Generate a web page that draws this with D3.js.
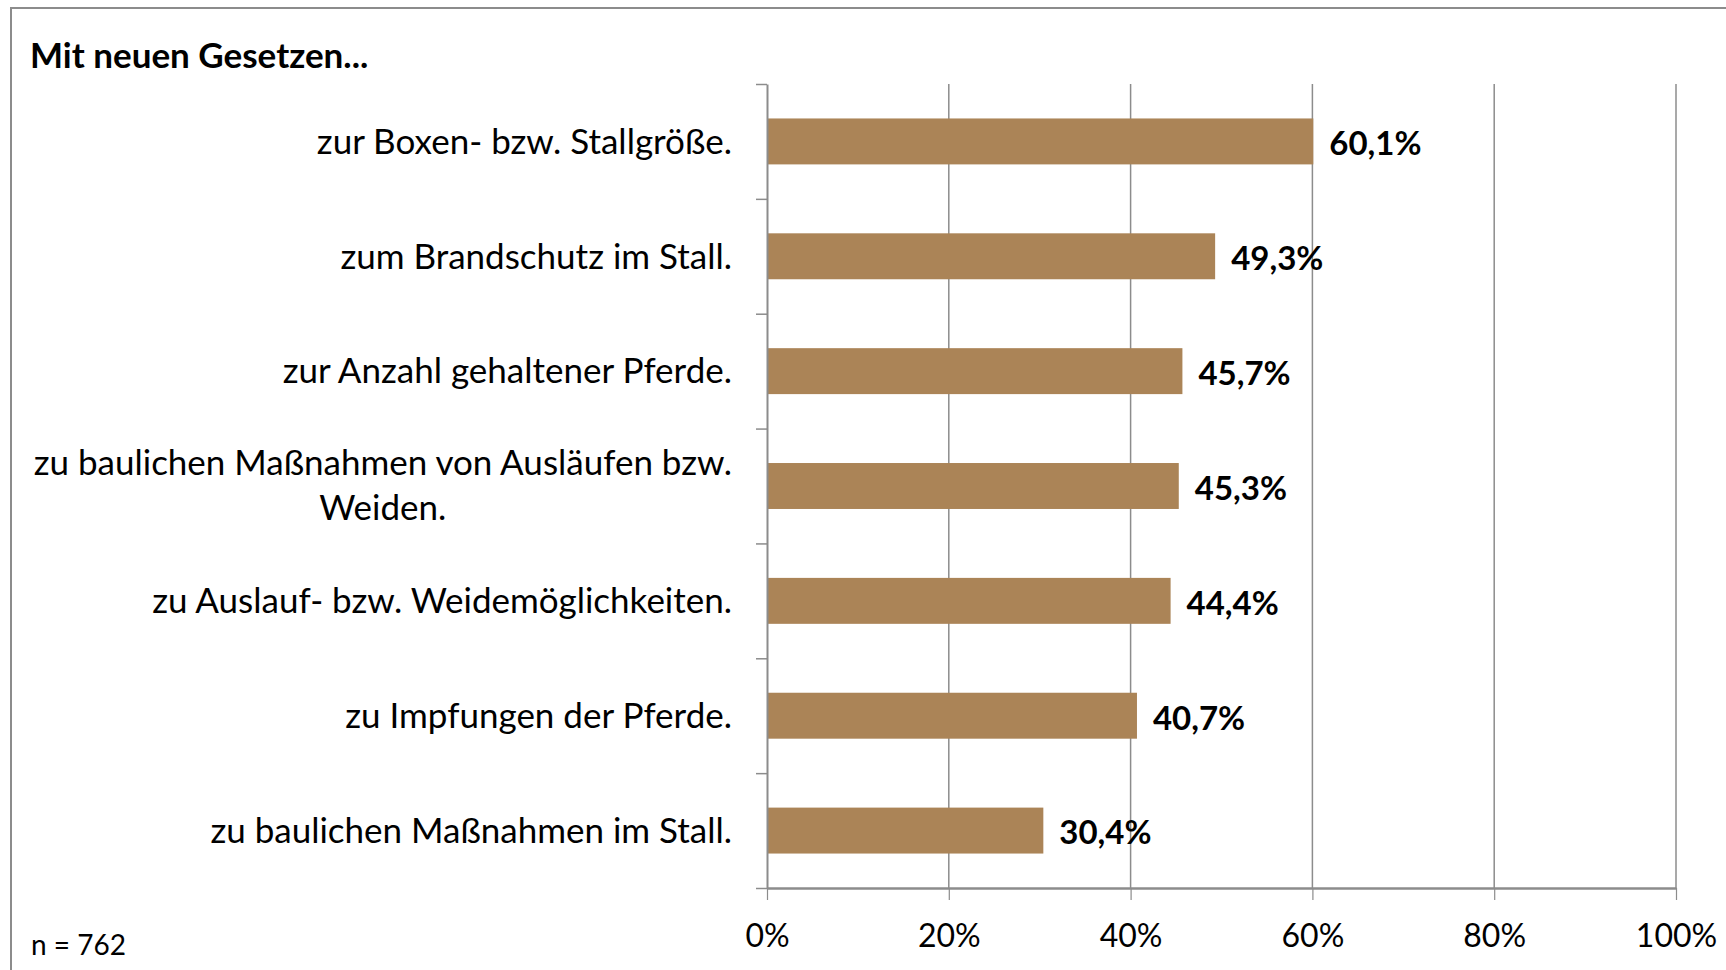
<!DOCTYPE html>
<html>
<head>
<meta charset="utf-8">
<script src="https://cdn.jsdelivr.net/npm/d3@7"></script>
<style>
  body { margin: 0; background: #fff; }
  text { font-family: Lato, "Open Sans", sans-serif; fill: #000; }
</style>
</head>
<body>
<svg width="1726" height="970"></svg>
<script>
const categories = [
  'zur Boxen- bzw. Stallgröße.',
  'zum Brandschutz im Stall.',
  'zur Anzahl gehaltener Pferde.',
  'zu baulichen Maßnahmen von Ausläufen bzw.\nWeiden.',
  'zu Auslauf- bzw. Weidemöglichkeiten.',
  'zu Impfungen der Pferde.',
  'zu baulichen Maßnahmen im Stall.'
];
const values = [60.1, 49.3, 45.7, 45.3, 44.4, 40.7, 30.4];
const xTicks = [0, 20, 40, 60, 80, 100];
const title = 'Mit neuen Gesetzen...';
const note = 'n = 762';

const data = categories.map((c, i) => ({cat: c, value: values[i]}));

const svg = d3.select('svg'),
      margin = {top: 84, right: 50, bottom: 82, left: 767},
      width = +svg.attr('width') - margin.left - margin.right,
      height = +svg.attr('height') - margin.top - margin.bottom;

const gridColor = '#8c8c8c';
const barColor = '#ab8457';

// outer frame (only top and left edge are inside the picture)
svg.append('rect')
  .attr('x', 11).attr('y', 8)
  .attr('width', 1800).attr('height', 1000)
  .attr('fill', 'none')
  .attr('stroke', gridColor)
  .attr('stroke-width', 2);

svg.append('text')
  .attr('x', 30).attr('y', 68)
  .attr('font-size', 35)
  .attr('font-weight', 'bold')
  .text(title);

svg.append('text')
  .attr('x', 31).attr('y', 955)
  .attr('font-size', 28)
  .text(note);

const g = svg.append('g').attr('transform', `translate(${margin.left}, ${margin.top})`);

const x = d3.scaleLinear()
  .range([0, width])
  .domain([0, 100]);

const y = d3.scaleBand()
  .range([0, height])
  .domain(categories)
  .paddingInner(0.6)
  .paddingOuter(0.3);

// boundaries between categories, for the tick marks on the left axis
const yIdx = d3.scaleLinear()
  .range([0, height])
  .domain([0, categories.length]);

// vertical gridlines
g.append('g').selectAll('line')
  .data(xTicks.slice(1))
  .enter().append('line')
    .attr('x1', d => x(d)).attr('x2', d => x(d))
    .attr('y1', 0).attr('y2', height)
    .attr('stroke', gridColor)
    .attr('stroke-width', 1.5);

// bars
g.append('g').selectAll('rect')
  .data(data)
  .enter().append('rect')
    .attr('x', x(0))
    .attr('y', d => y(d.cat))
    .attr('width', d => x(d.value) - x(0))
    .attr('height', y.bandwidth())
    .attr('fill', barColor);

// bottom axis
const xAxis = g.append('g')
  .attr('transform', `translate(0, ${height})`)
  .call(d3.axisBottom(x).tickValues(xTicks).tickSize(12).tickSizeOuter(0).tickFormat(d => d + '%'));
xAxis.select('.domain').attr('stroke', gridColor).attr('stroke-width', 2.5);
xAxis.selectAll('.tick line').attr('stroke', gridColor).attr('stroke-width', 1.2);
xAxis.selectAll('.tick text')
  .attr('y', 59)
  .attr('dy', 0)
  .attr('font-size', 32)
  .attr('font-family', 'Lato, sans-serif')
  .attr('fill', '#000');

// left axis, ticks at category boundaries
const yAxis = g.append('g')
  .call(d3.axisLeft(yIdx).ticks(categories.length).tickSize(11).tickSizeOuter(0).tickFormat(''));
yAxis.select('.domain').attr('stroke', gridColor).attr('stroke-width', 2);
yAxis.selectAll('.tick line').attr('stroke', gridColor).attr('stroke-width', 1.5);

// category labels
const labels = g.append('g').selectAll('text')
  .data(data)
  .enter().append('text')
    .attr('font-size', 35)
    .attr('text-anchor', 'end')
    .attr('transform', d => `translate(-35, ${y(d.cat) + y.bandwidth() / 2})`);

labels.each(function(d) {
  const lines = d.cat.split('\n');
  const t = d3.select(this);
  if (lines.length === 1) {
    t.append('tspan').attr('x', 0).attr('dy', '0.35em').text(lines[0]);
  } else {
    // wrapped label: second line centred under the first
    t.attr('text-anchor', 'middle');
    const first = t.append('tspan').attr('x', 0).attr('y', -11).text(lines[0]);
    const w = first.node().getComputedTextLength();
    first.attr('x', -w / 2);
    t.append('tspan').attr('x', -w / 2).attr('y', 34).text(lines[1]);
  }
});

// value labels
g.append('g').selectAll('text')
  .data(data)
  .enter().append('text')
    .attr('x', d => x(d.value) + 16)
    .attr('y', d => y(d.cat) + y.bandwidth() / 2)
    .attr('dy', '0.42em')
    .attr('font-size', 33)
    .attr('font-weight', 'bold')
    .text(d => d.value.toFixed(1).replace('.', ',') + '%');
</script>
</body>
</html>
